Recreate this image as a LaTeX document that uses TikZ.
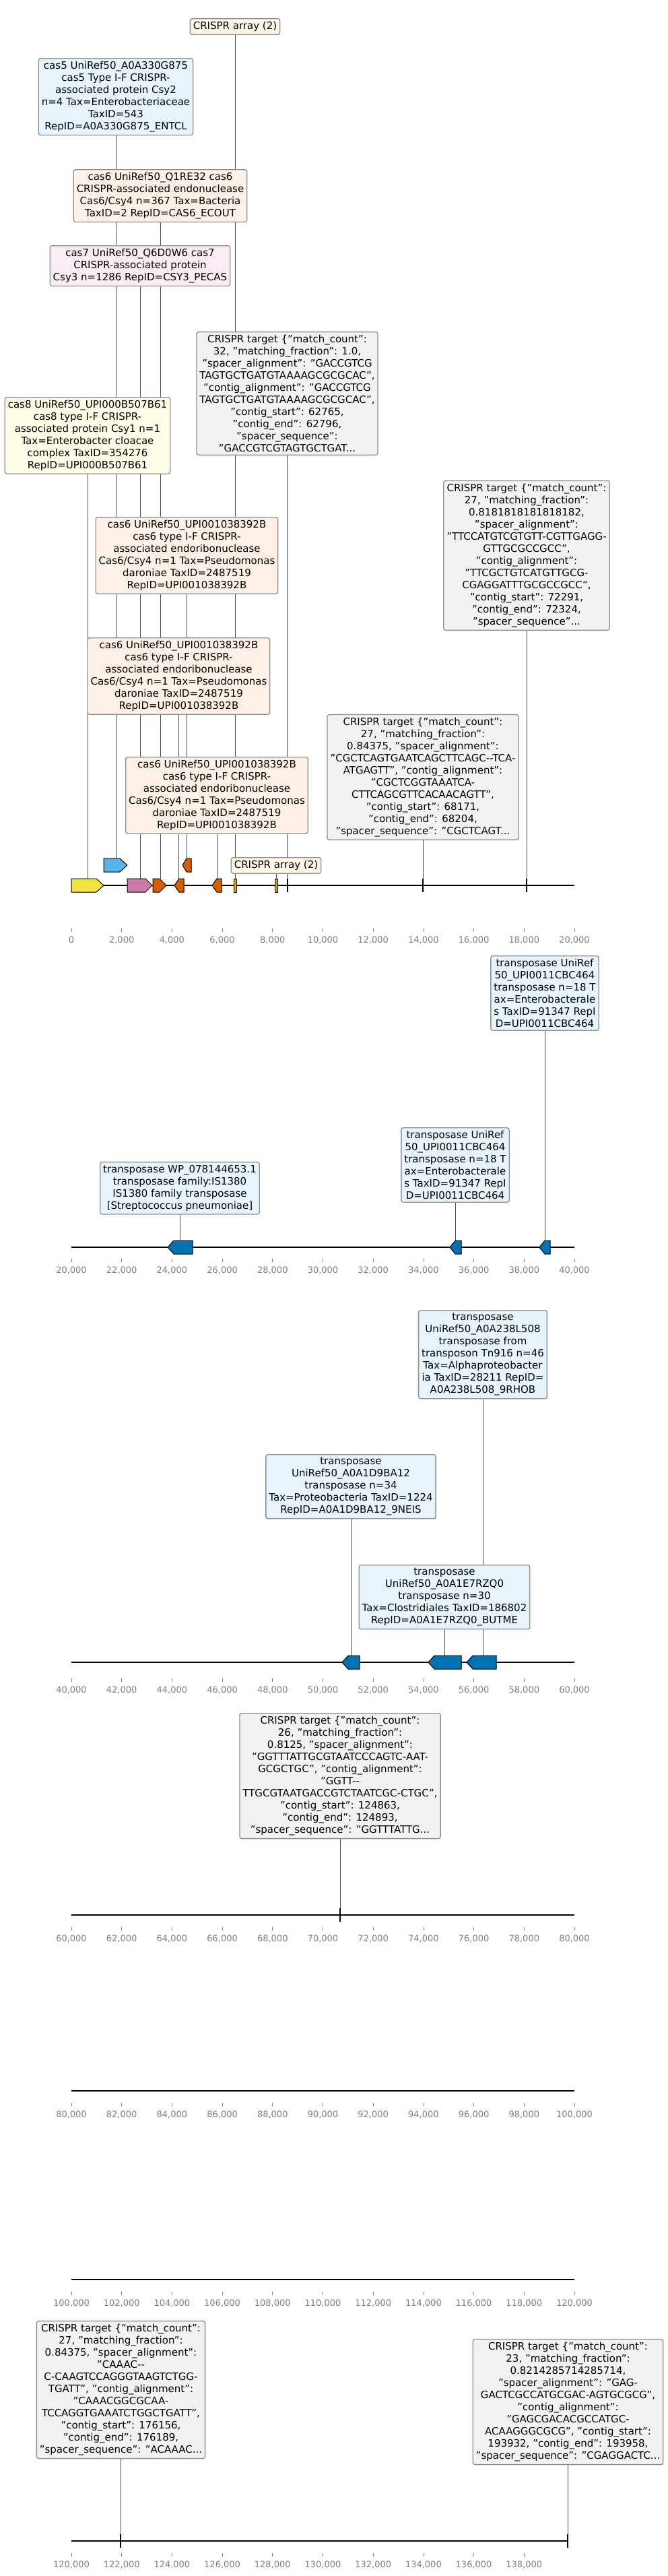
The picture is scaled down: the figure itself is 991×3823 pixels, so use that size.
\documentclass[tikz,border=0pt]{standalone}
\usepackage{fontspec}
\setmainfont{DejaVu Sans}
\usetikzlibrary{backgrounds}

\definecolor{edgegray}{HTML}{8F8F8F}
\definecolor{conngray}{HTML}{4D4D4D}
\definecolor{ticktext}{HTML}{808080}
\definecolor{fillblue}{HTML}{E7F4FB}
\definecolor{fillorange}{HTML}{FDF0E6}
\definecolor{fillpink}{HTML}{F9EDF3}
\definecolor{fillyellow}{HTML}{FDFDE8}
\definecolor{fillarray}{HTML}{FDF5E6}
\definecolor{fillgray}{HTML}{F2F2F2}
\definecolor{cyellow}{HTML}{F0E442}
\definecolor{cblue}{HTML}{56B4E9}
\definecolor{cpink}{HTML}{CC79A7}
\definecolor{corange}{HTML}{D55E00}
\definecolor{carray}{HTML}{E69F00}
\definecolor{ctrans}{HTML}{0072B2}

\newcommand{\fwdgene}[6]{% x1, shoulder, tip, y, colour, name
	\draw[gene,fill=#5] (#1,#4-10) -- (#2,#4-10) -- (#3,#4) -- (#2,#4+10) -- (#1,#4+10) -- cycle;
	\coordinate (#6) at ({(#1+#3)/2},#4-10);}
\newcommand{\revgene}[6]{% tip, shoulder, x2, y, colour, name
	\draw[gene,fill=#5] (#1,#4) -- (#2,#4-10) -- (#3,#4-10) -- (#3,#4+10) -- (#2,#4+10) -- cycle;
	\coordinate (#6) at ({(#1+#3)/2},#4-10);}
\newcommand{\hit}[3]{%
	\draw[hitmark] (#1,#2-10) -- (#1,#2+10);
	\coordinate (#3) at (#1,#2-10);}
\newcommand{\track}[5]{% start kbp, line y, label y, last tick, line end
	\draw[backbone] (106,#2) -- (#5,#2);
	\foreach \k in {0,2,...,#4}{
		\pgfmathtruncatemacro\kk{#1+\k}
		\draw[tickmark] (106+37.35*\k,#3-17) -- (106+37.35*\k,#3-12);
		\node[ticklbl] at (106+37.35*\k,#3+4.7) {\ifnum\kk=0 0\else\kk,000\fi};
	}}
\newcommand{\upitext}{cas6 UniRef50\_UPI001038392B\\cas6 type I-F CRISPR-\\associated endoribonuclease\\Cas6/Csy4 n=1 Tax=Pseudomonas\\daroniae TaxID=2487519\\RepID=UPI001038392B}
\newcommand{\cbctext}{transposase UniRef\\50\_UPI0011CBC464\\transposase n=18 T\\ax=Enterobacterale\\s TaxID=91347 RepI\\D=UPI0011CBC464}

\begin{document}
\begin{tikzpicture}[
	x=1pt,y=-1pt,
	lbl/.style={draw=edgegray,line width=1.3pt,rounded corners=3pt,align=center,inner xsep=4.5pt,inner ysep=4.5pt,font=\fontsize{15}{18}\selectfont,anchor=north},
	tgt/.style={lbl,fill=fillgray},
	gene/.style={draw=black,line width=1pt,line join=miter},
	hitmark/.style={draw=black,line width=2pt},
	backbone/.style={draw=black,line width=2.5pt},
	tickmark/.style={draw=ticktext,line width=0.8pt},
	ticklbl/.style={text=ticktext,font=\fontsize{13}{15}\selectfont,anchor=base,inner sep=0},
	conn/.style={draw=conngray,line width=1pt},
]
\useasboundingbox (0,0) rectangle (991,3823);

% tracks
\track{0}{1314}{1395}{20}{853}
\track{20}{1851}{1885}{20}{853}
\track{40}{2467}{2508}{20}{853}
\track{60}{2842}{2877}{20}{853}
\track{80}{3103}{3138}{20}{853}
\track{100}{3383}{3418}{20}{853}
\track{120}{3771}{3806}{18}{843}

% features
\fwdgene{106}{143}{154}{1314}{cyellow}{gcas8}
\fwdgene{154}{178}{189}{1284}{cblue}{gcas5}
\fwdgene{189}{216}{226}{1314}{cpink}{gcas7}
\fwdgene{227}{237}{247}{1314}{corange}{gcas6a}
\revgene{259}{266}{273}{1314}{corange}{gcas6c}
\revgene{271}{277}{284}{1284}{corange}{gcas6b}
\revgene{315}{322}{329}{1314}{corange}{gcas6d}
\draw[gene,fill=carray] (347,1304) rectangle (351,1324);
\coordinate (arr1) at (349,1304);
\draw[gene,fill=carray] (408,1304) rectangle (412,1324);
\coordinate (arr2) at (410,1304);
\hit{427}{1314}{hitA}
\hit{628}{1314}{hitC}
\hit{782}{1314}{hitB}
\revgene{249}{258}{286}{1851}{ctrans}{gtpA}
\revgene{668}{676}{685}{1851}{ctrans}{gtpB}
\revgene{801}{809}{817}{1851}{ctrans}{gtpC}
\revgene{508}{517}{534}{2467}{ctrans}{gtpE}
\revgene{636}{645}{685}{2467}{ctrans}{gtpF}
\revgene{693}{702}{737}{2467}{ctrans}{gtpD}
\hit{505}{2842}{hitD}
\hit{179}{3771}{hitE}
\hit{843}{3771}{hitF}

% labels
\node[lbl,fill=fillarray] (arrtop) at (349,27) {CRISPR array (2)};
\node[lbl,fill=fillblue] (cas5) at (172,86) {cas5 UniRef50\_A0A330G875\\cas5 Type I-F CRISPR-\\associated protein Csy2\\n=4 Tax=Enterobacteriaceae\\TaxID=543\\RepID=A0A330G875\_ENTCL};
\node[lbl,fill=fillorange] (cas6a) at (238,251) {cas6 UniRef50\_Q1RE32 cas6\\CRISPR-associated endonuclease\\Cas6/Csy4 n=367 Tax=Bacteria\\TaxID=2 RepID=CAS6\_ECOUT};
\node[lbl,fill=fillpink] (cas7) at (208,364) {cas7 UniRef50\_Q6D0W6 cas7\\CRISPR-associated protein\\Csy3 n=1286 RepID=CSY3\_PECAS};
\node[tgt] (tgtA) at (426.5,492) {CRISPR target \{"match\_count":\\32, "matching\_fraction": 1.0,\\"spacer\_alignment": "GACCGTCG\\TAGTGCTGATGTAAAAGCGCGCAC",\\"contig\_alignment": "GACCGTCG\\TAGTGCTGATGTAAAAGCGCGCAC",\\"contig\_start": 62765,\\"contig\_end": 62796,\\"spacer\_sequence":\\"GACCGTCGTAGTGCTGAT...};
\node[lbl,fill=fillyellow] (cas8) at (130,589) {cas8 UniRef50\_UPI000B507B61\\cas8 type I-F CRISPR-\\associated protein Csy1 n=1\\Tax=Enterobacter cloacae\\complex TaxID=354276\\RepID=UPI000B507B61};
\node[lbl,fill=fillorange] (cas6b) at (277.5,767) {\upitext};
\node[tgt,anchor=south] (tgtB) at (782,936) {CRISPR target \{"match\_count":\\27, "matching\_fraction":\\0.8181818181818182,\\"spacer\_alignment":\\"TTCCATGTCGTGTT-CGTTGAGG-\\GTTGCGCCGCC",\\"contig\_alignment":\\"TTCGCTGTCATGTTGCG-\\CGAGGATTTGCGCCGCC",\\"contig\_start": 72291,\\"contig\_end": 72324,\\"spacer\_sequence"...};
\node[lbl,fill=fillorange] (cas6c) at (265.5,946) {\upitext};
\node[tgt,anchor=south] (tgtC) at (628,1247) {CRISPR target \{"match\_count":\\27, "matching\_fraction":\\0.84375, "spacer\_alignment":\\"CGCTCAGTGAATCAGCTTCAGC-{}-TCA-\\ATGAGTT", "contig\_alignment":\\"CGCTCGGTAAATCA-\\CTTCAGCGTTCACAACAGTT",\\"contig\_start": 68171,\\"contig\_end": 68204,\\"spacer\_sequence": "CGCTCAGT...};
\node[lbl,fill=fillorange] (cas6d) at (322,1123) {\upitext};
\node[lbl,fill=fillarray] (arrlow) at (410,1272) {CRISPR array (2)};

\node[lbl,fill=fillblue] (tpC) at (809,1418) {\cbctext};
\node[lbl,fill=fillblue] (tpB) at (676,1673) {\cbctext};
\node[lbl,fill=fillblue] (tpA) at (267,1724) {transposase WP\_078144653.1\\transposase family:IS1380\\IS1380 family transposase\\{[Streptococcus pneumoniae]}};

\node[lbl,fill=fillblue] (tpD) at (717,1944) {transposase\\UniRef50\_A0A238L508\\transposase from\\transposon Tn916 n=46\\Tax=Alphaproteobacter\\ia TaxID=28211 RepID=\\A0A238L508\_9RHOB};
\node[lbl,fill=fillblue] (tpE) at (521,2158) {transposase\\UniRef50\_A0A1D9BA12\\transposase n=34\\Tax=Proteobacteria TaxID=1224\\RepID=A0A1D9BA12\_9NEIS};
\node[lbl,fill=fillblue] (tpF) at (660,2322) {transposase\\UniRef50\_A0A1E7RZQ0\\transposase n=30\\Tax=Clostridiales TaxID=186802\\RepID=A0A1E7RZQ0\_BUTME};
\node[tgt] (tgtD) at (505,2542) {CRISPR target \{"match\_count":\\26, "matching\_fraction":\\0.8125, "spacer\_alignment":\\"GGTTTATTGCGTAATCCCAGTC-AAT-\\GCGCTGC", "contig\_alignment":\\"GGTT-{}-\\TTGCGTAATGACCGTCTAATCGC-CTGC",\\"contig\_start": 124863,\\"contig\_end": 124893,\\"spacer\_sequence": "GGTTTATTG...};

\node[tgt] (tgtE) at (179.5,3444) {CRISPR target \{"match\_count":\\27, "matching\_fraction":\\0.84375, "spacer\_alignment":\\"CAAAC-{}-\\C-CAAGTCCAGGGTAAGTCTGG-\\TGATT", "contig\_alignment":\\"CAAACGGCGCAA-\\TCCAGGTGAAATCTGGCTGATT",\\"contig\_start": 176156,\\"contig\_end": 176189,\\"spacer\_sequence": "ACAAAC...};
\node[tgt] (tgtF) at (843.5,3471) {CRISPR target \{"match\_count":\\23, "matching\_fraction":\\0.8214285714285714,\\"spacer\_alignment": "GAG-\\GACTCGCCATGCGAC-AGTGCGCG",\\"contig\_alignment":\\"GAGCGACACGCCATGC-\\ACAAGGGCGCG", "contig\_start":\\193932, "contig\_end": 193958,\\"spacer\_sequence": "CGAGGACTC...};

% connectors
\begin{scope}[on background layer]
\fill[white] (0,0) rectangle (991,3823);
\foreach \a/\b in {arrtop/arr1,cas5/gcas5,cas6a/gcas6a,cas7/gcas7,tgtA/hitA,cas8/gcas8,cas6b/gcas6b,tgtB/hitB,cas6c/gcas6c,tgtC/hitC,cas6d/gcas6d,arrlow/arr2,tpA/gtpA,tpB/gtpB,tpC/gtpC,tpD/gtpD,tpE/gtpE,tpF/gtpF,tgtD/hitD,tgtE/hitE,tgtF/hitF}
	\draw[conn] (\a.south) -- (\a.south |- \b);
\end{scope}
\end{tikzpicture}
\end{document}
